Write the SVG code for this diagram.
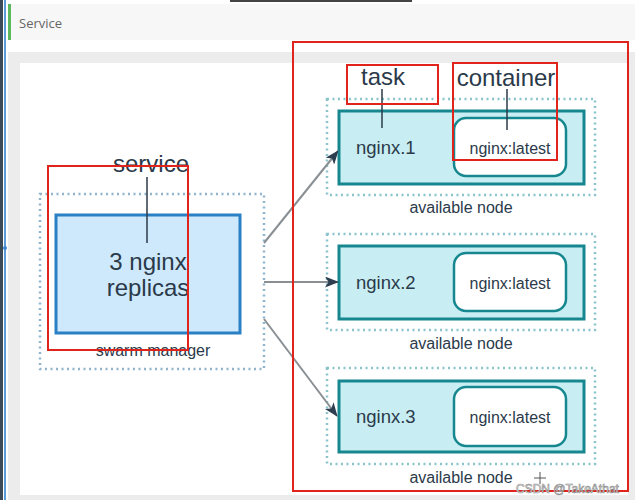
<svg xmlns="http://www.w3.org/2000/svg" width="635" height="500" viewBox="0 0 635 500">
<style>
text{font-family:"Liberation Sans",Arial,sans-serif;fill:#2b3a4a}
.big{font-size:24px}
.lbl{font-size:16px}
.task{font-size:18.5px}
.dotn{fill:none;stroke:#8cc4cc;stroke-width:2.5;stroke-dasharray:2 3.5}
.dots{fill:none;stroke:#8fb4cc;stroke-width:2.5;stroke-dasharray:2 3.5}
.inner{fill:#c8eef3;stroke:#17878f;stroke-width:3}
.cont{fill:#fff;stroke:#17878f;stroke-width:2.5}
.red{fill:none;stroke:#e0231b;stroke-width:2}
.lead{stroke:#2b3a4a;stroke-width:1.5}
.conn{stroke:#8a8f94;stroke-width:2;fill:none;marker-end:url(#ah)}
</style>
<defs>
<marker id="ah" viewBox="0 0 14 11" refX="13" refY="5.5" markerWidth="14" markerHeight="11" markerUnits="userSpaceOnUse" orient="auto">
<path d="M0,0 L14,5.5 L0,11 L3.5,5.5 Z" fill="#2d3e50"/>
</marker>
</defs>
<rect width="635" height="500" fill="#ffffff"/>
<rect x="0" y="0" width="3" height="500" fill="#3b4a57"/>
<rect x="4" y="0" width="2" height="500" fill="#5a9bd8"/>
<circle cx="5" cy="248" r="2" fill="#3a86cf"/>
<rect x="230" y="0" width="182" height="2" fill="#444"/>
<rect x="8" y="4" width="627" height="36" fill="#f7f7f7"/>
<rect x="8" y="4" width="3" height="36" fill="#5cb85c"/>
<text x="19" y="28" style="font-size:13px;fill:#666;font-family:'Open Sans','Liberation Sans',sans-serif">Service</text>
<rect x="8" y="52" width="627" height="448" fill="#ececec"/>
<rect x="20" y="63" width="608" height="432" fill="#ffffff"/>

<g id="manager">
<rect class="dots" x="40" y="194" width="224" height="175"/>
<rect x="56" y="215" width="184" height="118" fill="#cde9fb" stroke="#2a80c4" stroke-width="3"/>
<text class="big" x="148" y="270" text-anchor="middle">3 nginx</text>
<text class="big" x="148" y="296" text-anchor="middle">replicas</text>
<text class="lbl" x="153" y="356" text-anchor="middle">swarm manager</text>
<text class="big" x="151" y="172" text-anchor="middle">service</text>
<line class="lead" x1="147" y1="177" x2="147" y2="243"/>
</g>

<g id="node1">
<rect class="dotn" x="327" y="99" width="268" height="96"/>
<rect class="inner" x="339" y="111" width="245" height="73"/>
<rect class="cont" x="454" y="118" width="112" height="58" rx="12"/>
<text class="task" x="356" y="154">nginx.1</text>
<text class="lbl" x="510" y="154" text-anchor="middle">nginx:latest</text>
<text class="lbl" x="461" y="213" text-anchor="middle">available node</text>
<text class="big" x="383" y="85" text-anchor="middle">task</text>
<text class="big" x="506" y="86" text-anchor="middle">container</text>
<line class="lead" x1="382" y1="89" x2="382" y2="128"/>
<line class="lead" x1="507" y1="89" x2="507" y2="130"/>
</g>

<g id="node2">
<rect class="dotn" x="327" y="234" width="268" height="96"/>
<rect class="inner" x="339" y="246" width="245" height="73"/>
<rect class="cont" x="454" y="253" width="112" height="58" rx="12"/>
<text class="task" x="356" y="289">nginx.2</text>
<text class="lbl" x="510" y="289" text-anchor="middle">nginx:latest</text>
<text class="lbl" x="461" y="349" text-anchor="middle">available node</text>
</g>

<g id="node3">
<rect class="dotn" x="327" y="368" width="268" height="96"/>
<rect class="inner" x="339" y="381" width="245" height="71"/>
<rect class="cont" x="454" y="387" width="112" height="59" rx="12"/>
<text class="task" x="356" y="423">nginx.3</text>
<text class="lbl" x="510" y="423" text-anchor="middle">nginx:latest</text>
<text class="lbl" x="461" y="483" text-anchor="middle">available node</text>
</g>

<g id="connectors">
<line class="conn" x1="264" y1="243" x2="338" y2="151"/>
<line class="conn" x1="264" y1="282" x2="338" y2="282"/>
<line class="conn" x1="264" y1="319" x2="337" y2="416"/>
</g>

<g id="annotations">
<rect class="red" x="293" y="42" width="335" height="449"/>
<rect class="red" x="48" y="166" width="140" height="184"/>
<rect class="red" x="347" y="65" width="91" height="39"/>
<rect class="red" x="453" y="63" width="104" height="97"/>
</g>

<g id="watermark">
<line x1="534" y1="478" x2="546" y2="478" stroke="#555" stroke-width="1"/>
<line x1="540" y1="472" x2="540" y2="484" stroke="#555" stroke-width="1"/>
<text x="516" y="493" style="font-size:12px;fill:#f4f4f4;stroke:#8a8a8a;stroke-width:0.6">CSDN @TakeAthat</text>
</g>
</svg>
